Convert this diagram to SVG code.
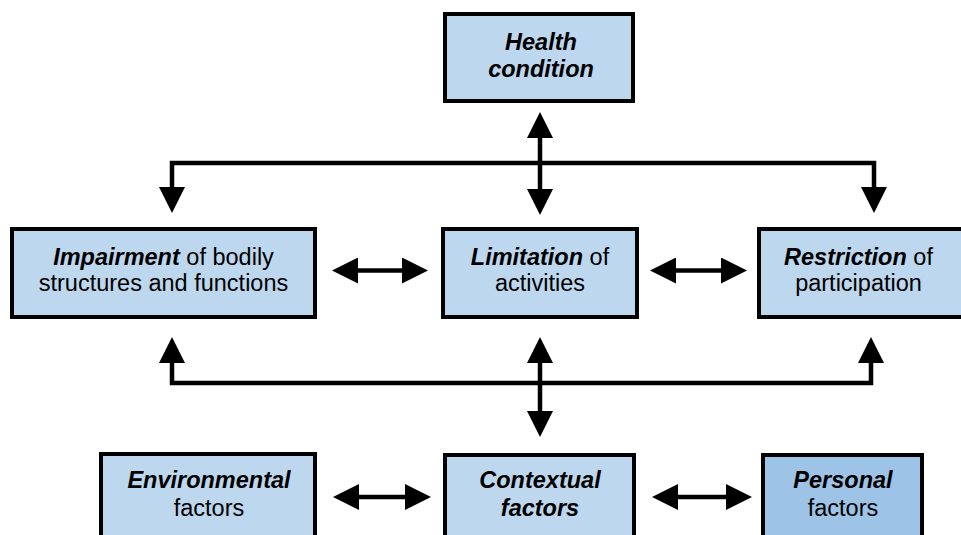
<svg xmlns="http://www.w3.org/2000/svg" width="961" height="535" viewBox="0 0 961 535">
<style>
.box{fill:#BDD7EE;stroke:#000;stroke-width:4}
.box.dark{fill:#9DC3E6}
text{font-family:"Liberation Sans",Arial,sans-serif;font-size:23.5px;fill:#000;text-anchor:middle}
.b{font-weight:bold;font-style:italic}
.con{fill:none;stroke:#000;stroke-width:4.5;stroke-linejoin:miter}
</style>
<defs>
<marker id="ah" markerUnits="userSpaceOnUse" viewBox="0 0 26 26" markerWidth="26" markerHeight="26" refX="16" refY="13" orient="auto-start-reverse">
<path d="M0,0 L26,13 L0,26 Z" fill="#000"/>
</marker>
</defs>
<g id="connectors">
<line class="con" x1="540" y1="122" x2="540" y2="205" marker-start="url(#ah)" marker-end="url(#ah)"/>
<path class="con" d="M172,203 V163 H874 V203" marker-start="url(#ah)" marker-end="url(#ah)"/>
<path class="con" d="M172,347 V383 H871 V347" marker-start="url(#ah)" marker-end="url(#ah)"/>
<line class="con" x1="540" y1="347" x2="540" y2="427" marker-start="url(#ah)" marker-end="url(#ah)"/>
<line class="con" x1="342" y1="270.5" x2="418" y2="270.5" marker-start="url(#ah)" marker-end="url(#ah)"/>
<line class="con" x1="660" y1="270.5" x2="737" y2="270.5" marker-start="url(#ah)" marker-end="url(#ah)"/>
<line class="con" x1="343" y1="497" x2="421" y2="497" marker-start="url(#ah)" marker-end="url(#ah)"/>
<line class="con" x1="662" y1="497" x2="742" y2="497" marker-start="url(#ah)" marker-end="url(#ah)"/>
</g>
<g id="health">
<rect class="box" x="445" y="14" width="188" height="87"/>
<text x="541" y="50"><tspan class="b">Health</tspan></text>
<text x="541" y="77"><tspan class="b">condition</tspan></text>
</g>
<g id="impairment">
<rect class="box" x="12" y="229" width="303" height="88"/>
<text x="163.5" y="264.5"><tspan class="b">Impairment</tspan> of bodily</text>
<text x="163.5" y="291">structures and functions</text>
</g>
<g id="limitation">
<rect class="box" x="443" y="229" width="194" height="88"/>
<text x="540" y="264.5"><tspan class="b">Limitation</tspan> of</text>
<text x="540" y="291">activities</text>
</g>
<g id="restriction">
<rect class="box" x="759" y="229" width="205" height="88"/>
<text x="858.5" y="264.5"><tspan class="b">Restriction</tspan> of</text>
<text x="858.5" y="291">participation</text>
</g>
<g id="environmental">
<rect class="box" x="101" y="454" width="214" height="100"/>
<text x="209" y="488"><tspan class="b">Environmental</tspan></text>
<text x="209" y="516">factors</text>
</g>
<g id="contextual">
<rect class="box" x="445" y="455" width="189" height="100"/>
<text x="540" y="488"><tspan class="b">Contextual</tspan></text>
<text x="540" y="516"><tspan class="b">factors</tspan></text>
</g>
<g id="personal">
<rect class="box dark" x="763" y="455" width="159" height="100"/>
<text x="843" y="488"><tspan class="b">Personal</tspan></text>
<text x="843" y="516">factors</text>
</g>
</svg>
